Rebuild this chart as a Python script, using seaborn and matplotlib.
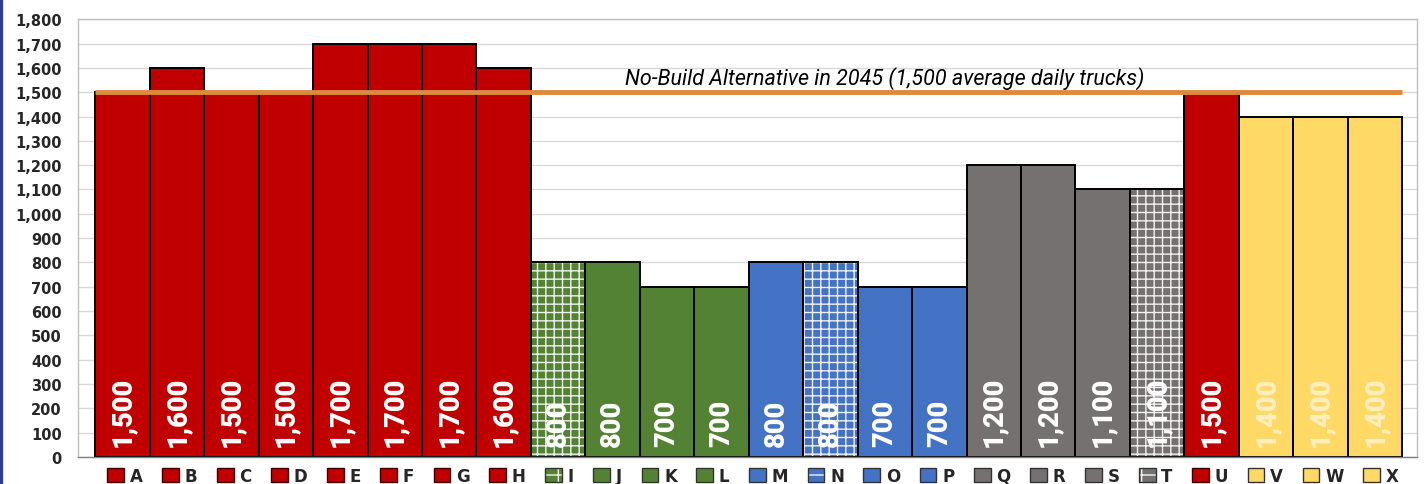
import matplotlib
matplotlib.use("Agg")
import matplotlib.pyplot as plt
import seaborn as sns
import pandas as pd
from matplotlib.colors import to_rgba
from matplotlib.patches import Patch
from matplotlib.ticker import FuncFormatter, MultipleLocator

# data
categories = list("ABCDEFGHIJKLMNOPQRSTUVWX")
trucks = [1500, 1600, 1500, 1500, 1700, 1700, 1700, 1600,
          800, 800, 700, 700,
          800, 800, 700, 700,
          1200, 1200, 1100, 1100,
          1500, 1400, 1400, 1400]
groups = ["red"] * 8 + ["green"] * 4 + ["blue"] * 4 + ["grey"] * 4 + ["red"] + ["yellow"] * 3
hatched = ["I", "N", "T"]
no_build = 1500
no_build_label = "No-Build Alternative in 2045 (1,500 average daily trucks)"

group_colors = {"red": "#C00000", "green": "#548235", "blue": "#4472C4",
                "grey": "#767171", "yellow": "#FFD966"}
label_colors = {"yellow": "#FDEFC0"}

df = pd.DataFrame({"cat": categories, "trucks": trucks, "group": groups})
palette = {c: group_colors[g] for c, g in zip(categories, groups)}

sns.set_style("white")
plt.rcParams["hatch.linewidth"] = 1.0

fig = plt.figure(figsize=(14.26, 4.85), dpi=100)
ax = fig.add_axes([0.055, 0.056, 0.939, 0.902])

sns.barplot(data=df, x="cat", y="trucks", hue="cat", palette=palette,
            width=1.0, dodge=False, legend=False, edgecolor="black",
            linewidth=1.4, saturation=1, ax=ax, zorder=2)

for patch, cat in zip(ax.patches, categories):
    if cat in hatched:
        patch.set_hatch("++")
        patch._hatch_color = to_rgba("#F2F2F2")

# value labels, rotated, at the bottom of each bar
for i, (v, g) in enumerate(zip(trucks, groups)):
    ax.text(i, 45, f"{v:,}", rotation=90, ha="center", va="bottom",
            color=label_colors.get(g, "white"), fontsize=19.5, fontweight="heavy",
            family=["Roboto", "DejaVu Sans"], zorder=4)

# no-build reference line
ax.hlines(no_build, -0.5, len(categories) - 0.5, color="#DE8A3E", lw=3.5, zorder=5)
ax.text(14.0, no_build + 62, no_build_label, ha="center", va="center",
        fontsize=15.5, style="italic", color="black",
        family=["Roboto", "DejaVu Sans"], zorder=5)

ax.set_xlim(-0.81, len(categories) - 0.22)
ax.set_ylim(0, 1800)
ax.yaxis.set_major_locator(MultipleLocator(100))
ax.yaxis.set_major_formatter(FuncFormatter(lambda v, p: f"{int(v):,}"))
ax.grid(axis="y", color="#D9D9D9", lw=1, zorder=0)
ax.set_axisbelow(True)
ax.set_xlabel("")
ax.set_ylabel("")
ax.set_xticks([])
for s in ax.spines.values():
    s.set_color("#BFBFBF")
    s.set_linewidth(1)
ax.spines["bottom"].set_color("#7F7F7F")
ax.tick_params(axis="y", length=6, color="#BFBFBF", pad=6, labelsize=10.5)
for t in ax.get_yticklabels():
    t.set_fontweight("bold")

# legend
handles = []
for c, g in zip(categories, groups):
    h = Patch(facecolor=palette[c], edgecolor="#3A0000" if g == "red" else "#333333",
              hatch="+" if c in hatched else None, label=c)
    if c in hatched:
        h._hatch_color = to_rgba("#F2F2F2")
    handles.append(h)
leg = fig.legend(handles=handles, loc="center", bbox_to_anchor=(0.528, 0.017), ncol=len(categories),
                 frameon=False, handlelength=1.0, handleheight=0.9, handletextpad=0.35,
                 columnspacing=1.17, prop={"weight": "bold", "size": 12})
for h in leg.legend_handles:
    if h.get_label() in hatched:
        h._hatch_color = to_rgba("#F2F2F2")

# blue frame on the left edge
fig.add_artist(plt.Line2D([0.001, 0.001], [0, 1], color="#2F3C9E", lw=3, transform=fig.transFigure))

fig.savefig("out.png", dpi=100)
